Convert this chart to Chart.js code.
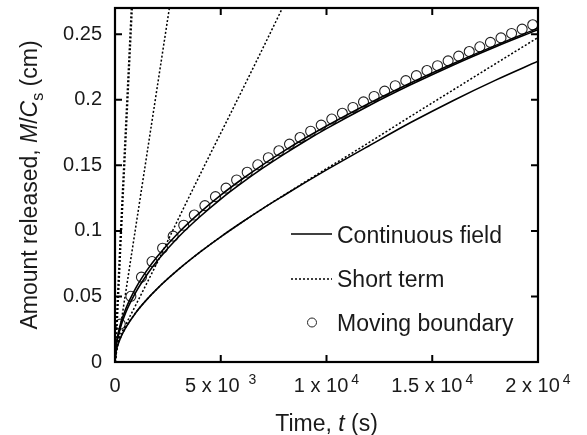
<!DOCTYPE html>
<html>
<head>
<meta charset="utf-8">
<script src="https://cdn.jsdelivr.net/npm/chart.js@4.4.0/dist/chart.umd.min.js"></script>
<style>
  html, body { margin: 0; padding: 0; background: #fff; }
  #wrap { width: 587px; height: 435px; }
</style>
</head>
<body>
<div id="wrap"><canvas id="releaseChart"></canvas></div>
<script>
// Tick values
const xTicks = [0, 5000, 10000, 15000, 20000];
const yTicks = [0, 0.05, 0.1, 0.15, 0.2, 0.25];
const yTickLabels = ['0', '0.05', '0.1', '0.15', '0.2', '0.25'];
const xTickBase = ['0', '5 x 10', '1 x 10', '1.5 x 10', '2 x 10'];
const xTickExp = ['', '3', '4', '4', '4'];

// Continuous field (solid) curves
const fieldT = [0, 50, 100, 250, 500, 1000, 1500, 2000, 3000, 4000, 5000, 6000, 7000, 8000, 9000, 10000, 12000, 14000, 16000, 18000, 20000];
const fieldUpper = [0, 0.0127, 0.0180, 0.0285, 0.0402, 0.0569, 0.0697, 0.0805, 0.0986, 0.1138, 0.1273, 0.1394, 0.1506, 0.1610, 0.1708, 0.1800, 0.1972, 0.2130, 0.2277, 0.2415, 0.2546];
const fieldUpper2 = [0, 0.0110, 0.0160, 0.0260, 0.0375, 0.0537, 0.0664, 0.0772, 0.0953, 0.1106, 0.1243, 0.1366, 0.1480, 0.1586, 0.1686, 0.1780, 0.1955, 0.2116, 0.2266, 0.2405, 0.2535];
const fieldLower = [0, 0.0080, 0.0112, 0.0180, 0.0260, 0.0380, 0.0476, 0.0560, 0.0706, 0.0836, 0.0955, 0.1066, 0.1172, 0.1272, 0.1370, 0.1465, 0.1648, 0.1828, 0.1995, 0.2150, 0.2294];

// Short term (dotted) curves
const shortA_T = [0, 250, 500, 800];
const shortA_M = [0, 0.088, 0.172, 0.272];
const shortB_T = [0, 1000, 2000, 2700];
const shortB_M = [0, 0.105, 0.210, 0.2835];
const shortC_T = [0, 100, 500, 1000, 2000, 3081, 4500, 5417, 7915, 8500];
const shortC_M = [0, 0.012, 0.028, 0.044, 0.076, 0.112, 0.1585, 0.188, 0.270, 0.290];
const shortD_T = [0, 100, 250, 500, 1000, 2000, 3000, 4000, 5000, 6000, 7000, 8000, 9000, 10000, 11000, 12000, 14000, 16000, 18000, 20000];
const shortD_M = [0, 0.0112, 0.0180, 0.0260, 0.0380, 0.0560, 0.0706, 0.0836, 0.0955, 0.1066, 0.1172, 0.1274, 0.1375, 0.1475, 0.1573, 0.1673, 0.1876, 0.2076, 0.2276, 0.2475];

// Moving boundary (circles)
const movingT = [250, 750, 1250, 1750, 2250, 2750, 3250, 3750, 4250, 4750, 5250, 5750, 6250, 6750, 7250, 7750, 8250, 8750, 9250, 9750,
  10250, 10750, 11250, 11750, 12250, 12750, 13250, 13750, 14250, 14750, 15250, 15750, 16250, 16750, 17250, 17750, 18250, 18750, 19250, 19750];
const movingM = [0.0289, 0.0501, 0.0647, 0.0766, 0.0868, 0.0960, 0.1043, 0.1121, 0.1193, 0.1261, 0.1326, 0.1388, 0.1447, 0.1504, 0.1558, 0.1611, 0.1662, 0.1712, 0.1760, 0.1807,
  0.1853, 0.1897, 0.1941, 0.1984, 0.2025, 0.2066, 0.2107, 0.2146, 0.2184, 0.2223, 0.2260, 0.2297, 0.2333, 0.2368, 0.2404, 0.2438, 0.2472, 0.2506, 0.2539, 0.2572];

const FONT = '"Liberation Sans", Arial, sans-serif';

function pts(ts, ms) {
    return ts.map((t, i) => ({ x: t, y: ms[i] }));
}

function solid(data) {
    return { data: data, borderColor: '#000', borderWidth: 1.6, pointRadius: 0, fill: false, cubicInterpolationMode: 'monotone' };
}

function dotted(data, width) {
    return { data: data, borderColor: '#000', borderWidth: width, borderDash: [2, 2], pointRadius: 0, fill: false, cubicInterpolationMode: 'monotone' };
}

// Frame, mirrored ticks, labels, titles and legend
const decorations = {
    id: 'decorations',
    afterDraw(chart) {
        const { ctx, chartArea: a, scales: { x, y } } = chart;
        ctx.save();
        ctx.strokeStyle = '#000';
        ctx.fillStyle = '#1a1a1a';
        ctx.lineWidth = 2.2;
        ctx.strokeRect(a.left, a.top, a.right - a.left, a.bottom - a.top);

        ctx.lineWidth = 2;
        ctx.beginPath();
        xTicks.forEach(v => {
            const px = x.getPixelForValue(v);
            ctx.moveTo(px, a.bottom); ctx.lineTo(px, a.bottom - 7);
            ctx.moveTo(px, a.top); ctx.lineTo(px, a.top + 7);
        });
        yTicks.forEach(v => {
            const py = y.getPixelForValue(v);
            ctx.moveTo(a.left, py); ctx.lineTo(a.left + 7, py);
            ctx.moveTo(a.right, py); ctx.lineTo(a.right - 7, py);
        });
        ctx.stroke();

        // y tick labels
        ctx.font = '20px ' + FONT;
        ctx.textAlign = 'right';
        ctx.textBaseline = 'middle';
        yTicks.forEach((v, i) => {
            ctx.fillText(yTickLabels[i], a.left - 13, y.getPixelForValue(v));
        });

        // x tick labels with exponents
        ctx.textAlign = 'left';
        ctx.textBaseline = 'alphabetic';
        xTicks.forEach((v, i) => {
            ctx.font = '20px ' + FONT;
            const base = xTickBase[i];
            const wb = ctx.measureText(base).width;
            ctx.font = '14px ' + FONT;
            const gap = xTickExp[i] === '3' ? 9 : 3;
            const we = xTickExp[i] ? ctx.measureText(xTickExp[i]).width + gap : 0;
            const left = x.getPixelForValue(v) - (wb + we) / 2;
            ctx.font = '20px ' + FONT;
            ctx.fillText(base, left, a.bottom + 30);
            if (xTickExp[i]) {
                ctx.font = '14px ' + FONT;
                ctx.fillText(xTickExp[i], left + wb + gap, a.bottom + 22);
            }
        });

        // x title: Time, t (s)
        const p1 = 'Time, ', p2 = 't', p3 = ' (s)';
        ctx.font = '23px ' + FONT;
        const w1 = ctx.measureText(p1).width, w3 = ctx.measureText(p3).width;
        ctx.font = 'italic 23px ' + FONT;
        const w2 = ctx.measureText(p2).width;
        let cx = (a.left + a.right) / 2 - (w1 + w2 + w3) / 2;
        const ty = 431;
        ctx.font = '23px ' + FONT; ctx.fillText(p1, cx, ty); cx += w1;
        ctx.font = 'italic 23px ' + FONT; ctx.fillText(p2, cx, ty); cx += w2;
        ctx.font = '23px ' + FONT; ctx.fillText(p3, cx, ty);

        // y title: Amount released, M/Cs (cm)
        ctx.save();
        ctx.translate(37, (a.top + a.bottom) / 2);
        ctx.rotate(-Math.PI / 2);
        const parts = [
            ['Amount released, ', '23px ', 0],
            ['M', 'italic 23px ', 0],
            ['/', '23px ', 0],
            ['C', 'italic 23px ', 0],
            ['s', '16px ', 6],
            [' (cm)', '23px ', 0]
        ];
        let total = 0;
        parts.forEach(p => { ctx.font = p[1] + FONT; total += ctx.measureText(p[0]).width; });
        let px = -total / 2;
        parts.forEach(p => {
            ctx.font = p[1] + FONT;
            ctx.fillText(p[0], px, p[2]);
            px += ctx.measureText(p[0]).width;
        });
        ctx.restore();

        // legend
        ctx.font = '23px ' + FONT;
        ctx.textBaseline = 'middle';
        ctx.strokeStyle = '#000';
        ctx.lineWidth = 1.6;
        ctx.beginPath(); ctx.moveTo(291, 234); ctx.lineTo(332, 234); ctx.stroke();
        ctx.fillText('Continuous field', 337, 237);
        ctx.lineWidth = 1.5;
        ctx.setLineDash([2, 2]);
        ctx.beginPath(); ctx.moveTo(291, 279); ctx.lineTo(332, 279); ctx.stroke();
        ctx.setLineDash([]);
        ctx.fillText('Short term', 337, 281);
        ctx.lineWidth = 1;
        ctx.strokeStyle = '#222';
        ctx.beginPath(); ctx.arc(312, 322.5, 4.5, 0, Math.PI * 2); ctx.stroke();
        ctx.fillText('Moving boundary', 337, 325);
        ctx.restore();
    }
};

const ctx = document.getElementById('releaseChart').getContext('2d');

new Chart(ctx, {
    type: 'line',
    data: {
        datasets: [
            solid(pts(fieldT, fieldUpper)),
            solid(pts(fieldT, fieldUpper2)),
            solid(pts(fieldT, fieldLower)),
            dotted(pts(shortA_T, shortA_M), 2.4),
            dotted(pts(shortB_T, shortB_M), 1.5),
            dotted(pts(shortC_T, shortC_M), 1.5),
            dotted(pts(shortD_T, shortD_M), 1.5),
            {
                data: pts(movingT, movingM),
                showLine: false,
                pointStyle: 'circle',
                pointRadius: 5,
                pointBorderWidth: 1.1,
                pointBorderColor: '#222',
                pointBackgroundColor: 'rgba(0,0,0,0)'
            }
        ]
    },
    options: {
        responsive: true,
        maintainAspectRatio: false,
        animation: false,
        layout: { padding: { top: 8, right: 49, left: 0, bottom: 0 } },
        plugins: {
            legend: { display: false },
            tooltip: { enabled: false }
        },
        scales: {
            x: {
                type: 'linear',
                min: 0,
                max: 20000,
                grid: { display: false },
                border: { display: false },
                ticks: { display: false },
                afterFit: (scale) => { scale.height = 73; }
            },
            y: {
                min: 0,
                max: 0.27,
                grid: { display: false },
                border: { display: false },
                ticks: { display: false },
                afterFit: (scale) => { scale.width = 115; }
            }
        }
    },
    plugins: [decorations]
});
</script>
</body>
</html>
